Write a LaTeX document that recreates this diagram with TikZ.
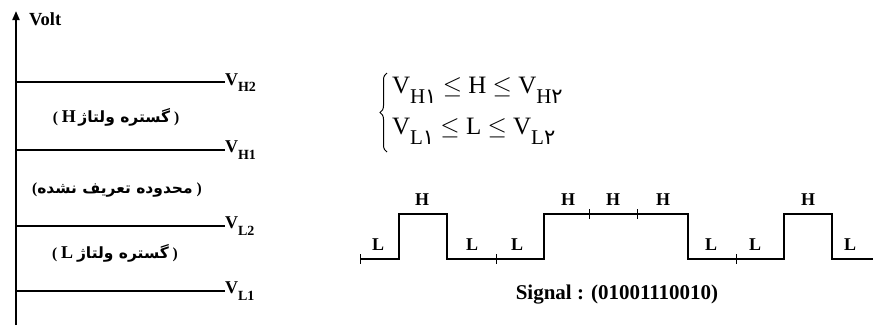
\documentclass[tikz,border=0pt]{standalone}
\usepackage{fontspec}
\setmainfont{Liberation Serif}
\newfontfamily\arabicfont[Script=Arabic]{DejaVu Sans}
\TeXXeTstate=1
\usetikzlibrary{arrows.meta,decorations.pathreplacing}

% Persian (right-to-left) text in bold
\newcommand\fa[1]{{\arabicfont\bfseries\beginR #1\endR}}
% Latin letter inside a Persian range label
\newcommand\lat[1]{{\fontsize{18}{20}\selectfont #1}}
% level label: V with a two-part subscript
\newcommand\vlev[1]{V\raisebox{-6.5pt}{\fontsize{14}{16}\selectfont #1}}
% subscript of the inequalities: letter plus Persian digit
\newcommand\eqsub[2]{\raisebox{-10pt}{\fontsize{21}{24}\selectfont #1{\arabicfont #2}}}

\begin{document}
\begin{tikzpicture}[x=1pt,y=-1pt,
  every node/.style={inner sep=0pt, outer sep=0pt},
  level/.style={line width=1.3pt},
  levlabel/.style={anchor=base west, font=\bfseries\fontsize{18}{20}\selectfont},
  rangelabel/.style={font=\bfseries\fontsize{15.5}{18}\selectfont},
  bit/.style={font=\bfseries\fontsize{18}{20}\selectfont},
  wave/.style={line width=1.5pt, line join=miter},
  tick/.style={line width=1pt},
  eqline/.style={anchor=base west, font=\fontsize{25}{28}\selectfont}]
\useasboundingbox (0,0) rectangle (873,325);

% voltage axis
\coordinate (ax0) at (16,325);
\coordinate (ax1) at (16,11);
\draw[line width=2pt, -{Triangle[width=7pt,length=9pt]}] (ax0) -- (ax1);
\node[anchor=base west, font=\bfseries\fontsize{18.5}{20}\selectfont] (volt) at (29,25) {Volt};

% threshold levels
\coordinate (h2) at (16,82);
\coordinate (h1) at (16,150);
\coordinate (l2) at (16,226);
\coordinate (l1) at (16,291);
\node[levlabel] (vh2) at (225,85) {\vlev{H2}};
\node[levlabel] (vh1) at (225,152.5) {\vlev{H1}};
\node[levlabel] (vl2) at (225,228.5) {\vlev{L2}};
\node[levlabel] (vl1) at (225,293.5) {\vlev{L1}};
\draw[level] (h2) -- (h2 -| vh2.west);
\draw[level] (h1) -- (h1 -| vh1.west);
\draw[level] (l2) -- (l2 -| vl2.west);
\draw[level] (l1) -- (l1 -| vl1.west);

% voltage ranges
\node[rangelabel] (rh) at (116,117) {( \lat{H}\,\fa{گستره ولتاژ} )};
\node[rangelabel] (ru) at (117,190) {(\fa{محدوده تعریف نشده} )};
\node[rangelabel] (rl) at (115,253) {( \lat{L} \fa{گستره ولتاژ} )};

% definitions of the two ranges
\node[eqline] (eq1) at (392,93) {V\eqsub{H}{١} $\le$ H $\le$ V\eqsub{H}{٢}};
\node[eqline] (eq2) at (392,134) {V\eqsub{L}{١} $\le$ L $\le$ V\eqsub{L}{٢}};
\coordinate (bra) at (387,152);
\coordinate (brb) at (387,73);
\draw[line width=1pt, decorate, decoration={brace, amplitude=7pt}] (bra) -- (brb);

% signal waveform
\draw[wave] (360,259) -- (399,259) -- (399,214) -- (447,214) -- (447,259)
  -- (544,259) -- (544,214) -- (688,214) -- (688,259) -- (784,259)
  -- (784,214) -- (832,214) -- (832,259) -- (873,259);
% bit boundaries
\foreach \x/\y in {360/259, 496/259, 589/214, 637/214, 736/259}
  \draw[tick] (\x,\y-5) -- (\x,\y+5);

% bit levels
\foreach \x/\y/\t in {378/245/L, 422/200/H, 472/245/L, 517/245/L, 568/200/H,
  613/200/H, 663/200/H, 711/245/L, 755/245/L, 808/200/H, 850/245/L}
  \node[bit] at (\x,\y) {\t};

\node[font=\bfseries\fontsize{21}{24}\selectfont] (sig) at (617,295) {Signal : (01001110010)};
\end{tikzpicture}
\end{document}
